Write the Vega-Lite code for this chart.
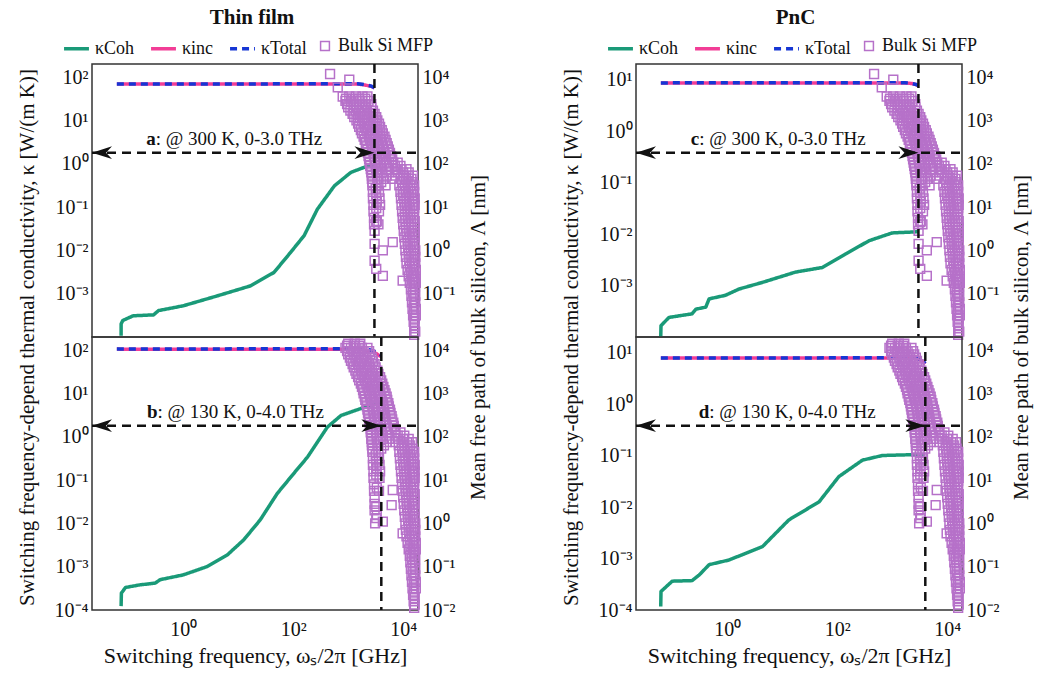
{
  "$schema": "https://vega.github.io/schema/vega-lite/v6.json",
  "background": "white",
  "padding": {"left": 15, "top": 7, "right": 2, "bottom": 2},
  "config": {
    "font": "Liberation Serif",
    "view": {"stroke": "#333", "strokeWidth": 1.5},
    "axis": {"labelFont": "Liberation Serif", "titleFont": "Liberation Serif", "labelFontSize": 20, "titleFontSize": 21, "titleFontWeight": "normal", "grid": false, "domain": false, "ticks": false, "labelColor": "#111", "titleColor": "#111", "labelPadding": 4, "titlePadding": 6},
    "legend": {"orient": "none", "legendX": -30, "legendY": -30, "direction": "horizontal", "labelFont": "Liberation Serif", "labelFontSize": 18, "labelColor": "#111", "columnPadding": 9, "labelOffset": 4, "padding": 0},
    "title": {"font": "Liberation Serif", "fontSize": 21, "fontWeight": "bold", "color": "#111", "anchor": "middle", "offset": 6}
  },
  "datasets": {
    "a_coh": [{"f":0.0741,"k":0.000107},{"f":0.0742,"k":0.0002},{"f":0.0794,"k":0.00024},{"f":0.123,"k":0.000309},{"f":0.288,"k":0.000324},{"f":0.355,"k":0.000407},{"f":1.0,"k":0.000525},{"f":4.17,"k":0.00089},{"f":16.6,"k":0.00151},{"f":44.7,"k":0.00309},{"f":89.1,"k":0.0089},{"f":158,"k":0.0219},{"f":275,"k":0.0891},{"f":562,"k":0.309},{"f":1122,"k":0.631},{"f":2291,"k":0.891},{"f":3000,"k":0.933}],
    "a_inc": [{"f":0.062,"k":69},{"f":1500,"k":69},{"f":1950,"k":66},{"f":2630,"k":61},{"f":3000,"k":56}],
    "a_tot": [{"f":0.062,"k":69.3},{"f":1500,"k":69.7},{"f":1950,"k":66.8},{"f":2630,"k":61.9},{"f":3000,"k":57}],
    "b_coh": [{"f":0.0741,"k":0.000123},{"f":0.075,"k":0.000245},{"f":0.0891,"k":0.000331},{"f":0.162,"k":0.00038},{"f":0.309,"k":0.000417},{"f":0.38,"k":0.000501},{"f":1.0,"k":0.000646},{"f":2.69,"k":0.001},{"f":6.31,"k":0.00186},{"f":12.6,"k":0.00417},{"f":25.1,"k":0.012},{"f":51.3,"k":0.049},{"f":102,"k":0.141},{"f":182,"k":0.339},{"f":417,"k":1.66},{"f":741,"k":3.09},{"f":1698,"k":4.47},{"f":3715,"k":6.03},{"f":3981,"k":6.17}],
    "b_inc": [{"f":0.062,"k":105},{"f":1400,"k":104.5},{"f":1950,"k":101},{"f":2630,"k":94},{"f":3236,"k":83},{"f":3700,"k":74},{"f":4000,"k":70}],
    "b_tot": [{"f":0.062,"k":105},{"f":1400,"k":108},{"f":1950,"k":105.5},{"f":2630,"k":99},{"f":3236,"k":88.5},{"f":3700,"k":80},{"f":4000,"k":76}],
    "c_coh": [{"f":0.0617,"k":0.0001},{"f":0.0624,"k":0.000166},{"f":0.0871,"k":0.00024},{"f":0.229,"k":0.000282},{"f":0.269,"k":0.000347},{"f":0.407,"k":0.00038},{"f":0.468,"k":0.00055},{"f":0.933,"k":0.000646},{"f":1.62,"k":0.000851},{"f":4.37,"k":0.00115},{"f":17.4,"k":0.00182},{"f":53.7,"k":0.00224},{"f":141,"k":0.00407},{"f":380,"k":0.00741},{"f":1000,"k":0.0105},{"f":2692,"k":0.011},{"f":3000,"k":0.011}],
    "c_inc": [{"f":0.062,"k":8.6},{"f":1700,"k":8.6},{"f":2200,"k":8.4},{"f":2700,"k":8.0},{"f":3000,"k":7.6}],
    "c_tot": [{"f":0.062,"k":8.6},{"f":1700,"k":8.61},{"f":2200,"k":8.41},{"f":2700,"k":8.01},{"f":3000,"k":7.61}],
    "d_coh": [{"f":0.0617,"k":0.000117},{"f":0.0624,"k":0.000229},{"f":0.1,"k":0.000363},{"f":0.229,"k":0.000372},{"f":0.309,"k":0.000479},{"f":0.468,"k":0.000759},{"f":1.07,"k":0.000933},{"f":4.37,"k":0.0017},{"f":13.2,"k":0.00562},{"f":46.8,"k":0.0126},{"f":107,"k":0.0389},{"f":288,"k":0.0813},{"f":661,"k":0.1},{"f":3548,"k":0.105},{"f":3981,"k":0.105}],
    "d_inc": [{"f":0.062,"k":7.8},{"f":2200,"k":7.8},{"f":2800,"k":7.6},{"f":3300,"k":7.1},{"f":3700,"k":6.5},{"f":4000,"k":6.0}],
    "d_tot": [{"f":0.062,"k":7.8},{"f":2200,"k":7.9},{"f":2800,"k":7.7},{"f":3300,"k":7.2},{"f":3700,"k":6.6},{"f":4000,"k":6.1}],
    "mfp300": [
      {"f":468,"m":11750},{"f":1047,"m":8700},{"f":646,"m":5750},{"f":3236,"m":4.47},{"f":6457,"m":1.55},{"f":4266,"m":1.0},{"f":3020,"m":0.575},{"f":4266,"m":0.257},{"f":9772,"m":0.2},{"f":3236,"m":0.372},
      {"f":794,"m":3548},{"f":1047,"m":3548},{"f":1380,"m":3548},{"f":1820,"m":3548},{"f":2239,"m":3548},
      {"f":912,"m":3162},{"f":1202,"m":3162},{"f":1585,"m":3162},{"f":2042,"m":3162},
      {"f":891,"m":2818},{"f":1122,"m":2818},{"f":1413,"m":2818},{"f":1778,"m":2818},{"f":2344,"m":2818},
      {"f":955,"m":2371},{"f":1259,"m":2371},{"f":1585,"m":2371},{"f":2089,"m":2371},{"f":2630,"m":2371},
      {"f":1000,"m":1995},{"f":1259,"m":1995},{"f":1585,"m":1995},{"f":1995,"m":1995},{"f":2630,"m":1995},
      {"f":1096,"m":1679},{"f":1380,"m":1679},{"f":1738,"m":1679},{"f":2188,"m":1679},{"f":2818,"m":1679},
      {"f":1202,"m":1413},{"f":1514,"m":1413},{"f":1905,"m":1413},{"f":2399,"m":1413},{"f":3020,"m":1413},
      {"f":1288,"m":1189},{"f":1622,"m":1189},{"f":2042,"m":1189},{"f":2630,"m":1189},{"f":3236,"m":1189},
      {"f":1413,"m":1000},{"f":1778,"m":1000},{"f":2239,"m":1000},{"f":2818,"m":1000},{"f":3388,"m":1000},
      {"f":1514,"m":841},{"f":1905,"m":841},{"f":2399,"m":841},{"f":3020,"m":841},{"f":3631,"m":841},
      {"f":1585,"m":708},{"f":1995,"m":708},{"f":2512,"m":708},{"f":3162,"m":708},{"f":3802,"m":708},
      {"f":1698,"m":596},{"f":2138,"m":596},{"f":2692,"m":596},{"f":3388,"m":596},{"f":4074,"m":596},
      {"f":1778,"m":501},{"f":2239,"m":501},{"f":2818,"m":501},{"f":3548,"m":501},{"f":4266,"m":501},
      {"f":1905,"m":422},{"f":2399,"m":422},{"f":3020,"m":422},{"f":3802,"m":422},{"f":4571,"m":422},
      {"f":1995,"m":355},{"f":2512,"m":355},{"f":3162,"m":355},{"f":3981,"m":355},{"f":4786,"m":355},
      {"f":2089,"m":299},{"f":2630,"m":299},{"f":3311,"m":299},{"f":4169,"m":299},{"f":5012,"m":299},
      {"f":2138,"m":251},{"f":2692,"m":251},{"f":3388,"m":251},{"f":4266,"m":251},{"f":5248,"m":251},
      {"f":2239,"m":211},{"f":2818,"m":211},{"f":3548,"m":211},{"f":4467,"m":211},{"f":5495,"m":211},
      {"f":2291,"m":178},{"f":2884,"m":178},{"f":3631,"m":178},{"f":4571,"m":178},{"f":5754,"m":178},
      {"f":2344,"m":150},{"f":2951,"m":150},{"f":3715,"m":150},{"f":4786,"m":150},{"f":6026,"m":150},
      {"f":2399,"m":126},{"f":3020,"m":126},{"f":3802,"m":126},{"f":4786,"m":126},{"f":6310,"m":126},
      {"f":2455,"m":106},{"f":3090,"m":106},{"f":3890,"m":106},{"f":5012,"m":106},{"f":6607,"m":106},{"f":7943,"m":106},
      {"f":2512,"m":89.1},{"f":3162,"m":89.1},{"f":3981,"m":89.1},{"f":5012,"m":89.1},{"f":7079,"m":89.1},{"f":8913,"m":89.1},
      {"f":2570,"m":75},{"f":3236,"m":75},{"f":4169,"m":75},{"f":5370,"m":75},{"f":7413,"m":75},{"f":9333,"m":75},{"f":11482,"m":75},
      {"f":2630,"m":63.1},{"f":3311,"m":63.1},{"f":4169,"m":63.1},{"f":5623,"m":63.1},{"f":7943,"m":63.1},{"f":10000,"m":63.1},{"f":12589,"m":63.1},
      {"f":2692,"m":53.1},{"f":3548,"m":53.1},{"f":5012,"m":53.1},{"f":7079,"m":53.1},{"f":10000,"m":53.1},{"f":12589,"m":53.1},{"f":15136,"m":53.1},
      {"f":2692,"m":44.7},{"f":3388,"m":44.7},{"f":4467,"m":44.7},{"f":6310,"m":44.7},{"f":8913,"m":44.7},{"f":11220,"m":44.7},{"f":14125,"m":44.7},
      {"f":2754,"m":37.6},{"f":3981,"m":37.6},{"f":9550,"m":37.6},{"f":12023,"m":37.6},{"f":14791,"m":37.6},
      {"f":2754,"m":31.6},{"f":3548,"m":31.6},{"f":4786,"m":31.6},{"f":8511,"m":31.6},{"f":10715,"m":31.6},{"f":13490,"m":31.6},{"f":15849,"m":31.6},
      {"f":3162,"m":26.6},{"f":9772,"m":26.6},{"f":12303,"m":26.6},{"f":15136,"m":26.6},
      {"f":2818,"m":22.4},{"f":3631,"m":22.4},{"f":8913,"m":22.4},{"f":11220,"m":22.4},{"f":14125,"m":22.4},{"f":15849,"m":22.4},
      {"f":3236,"m":18.8},{"f":10000,"m":18.8},{"f":12589,"m":18.8},{"f":15488,"m":18.8},
      {"f":2818,"m":15.8},{"f":3715,"m":15.8},{"f":9120,"m":15.8},{"f":11482,"m":15.8},{"f":14454,"m":15.8},{"f":16218,"m":15.8},
      {"f":3311,"m":13.3},{"f":10471,"m":13.3},{"f":12882,"m":13.3},{"f":15488,"m":13.3},
      {"f":2884,"m":11.2},{"f":3802,"m":11.2},{"f":9333,"m":11.2},{"f":11749,"m":11.2},{"f":14791,"m":11.2},{"f":16218,"m":11.2},
      {"f":3236,"m":9.44},{"f":10715,"m":9.44},{"f":13183,"m":9.44},{"f":15849,"m":9.44},
      {"f":2884,"m":7.94},{"f":3631,"m":7.94},{"f":9550,"m":7.94},{"f":12023,"m":7.94},{"f":15136,"m":7.94},
      {"f":10715,"m":6.68},{"f":13490,"m":6.68},{"f":15849,"m":6.68},
      {"f":2951,"m":5.62},{"f":9772,"m":5.62},{"f":12303,"m":5.62},{"f":15488,"m":5.62},
      {"f":3311,"m":4.73},{"f":10965,"m":4.73},{"f":13804,"m":4.73},{"f":16218,"m":4.73},
      {"f":2951,"m":3.98},{"f":3548,"m":3.98},{"f":10000,"m":3.98},{"f":12589,"m":3.98},{"f":15849,"m":3.98},
      {"f":11220,"m":3.35},{"f":14125,"m":3.35},{"f":16218,"m":3.35},
      {"f":3020,"m":2.82},{"f":10233,"m":2.82},{"f":12882,"m":2.82},{"f":15849,"m":2.82},
      {"f":11482,"m":2.37},{"f":14454,"m":2.37},{"f":16218,"m":2.37},
      {"f":10471,"m":2.0},{"f":13183,"m":2.0},{"f":16218,"m":2.0},
      {"f":12023,"m":1.68},{"f":14791,"m":1.68},
      {"f":3020,"m":1.41},{"f":10715,"m":1.41},{"f":13490,"m":1.41},{"f":16218,"m":1.41},
      {"f":12303,"m":1.19},{"f":15136,"m":1.19},
      {"f":10965,"m":1.0},{"f":13804,"m":1.0},{"f":16596,"m":1.0},
      {"f":12589,"m":0.841},{"f":15488,"m":0.841},
      {"f":11220,"m":0.708},{"f":14125,"m":0.708},{"f":16596,"m":0.708},
      {"f":12882,"m":0.596},{"f":15488,"m":0.596},
      {"f":11482,"m":0.501},{"f":14454,"m":0.501},{"f":16596,"m":0.501},
      {"f":13183,"m":0.422},{"f":15849,"m":0.422},
      {"f":12023,"m":0.355},{"f":14791,"m":0.355},{"f":16982,"m":0.355},
      {"f":13804,"m":0.299},{"f":15849,"m":0.299},
      {"f":12589,"m":0.251},{"f":15136,"m":0.251},{"f":16982,"m":0.251},
      {"f":14454,"m":0.211},{"f":16218,"m":0.211},
      {"f":13183,"m":0.178},{"f":15849,"m":0.178},{"f":16982,"m":0.178},
      {"f":14791,"m":0.15},{"f":16596,"m":0.15},
      {"f":13804,"m":0.126},{"f":16218,"m":0.126},
      {"f":15136,"m":0.106},
      {"f":14125,"m":0.0891},{"f":16596,"m":0.0891},
      {"f":15488,"m":0.075},
      {"f":14454,"m":0.0631},{"f":16596,"m":0.0631},
      {"f":15849,"m":0.053},
      {"f":14791,"m":0.0447},{"f":16982,"m":0.0447},
      {"f":15849,"m":0.0376},
      {"f":15136,"m":0.0316},{"f":16982,"m":0.0316},
      {"f":16218,"m":0.0266},
      {"f":15488,"m":0.0224},{"f":16218,"m":0.0188},{"f":15849,"m":0.0158},{"f":16596,"m":0.0133},{"f":15849,"m":0.0112}
    ],
    "mfp130": [
      {"f":3236,"m":18.6},{"f":6457,"m":5.89},{"f":3236,"m":2.4},{"f":6166,"m":2.63},{"f":3311,"m":1.55},{"f":4266,"m":1.1},{"f":9772,"m":0.589},{"f":3236,"m":1.32},
      {"f":1000,"m":14125},{"f":1318,"m":14125},{"f":1660,"m":14125},
      {"f":955,"m":12589},{"f":1259,"m":12589},{"f":1585,"m":12589},
      {"f":891,"m":11220},{"f":1122,"m":11220},{"f":1413,"m":11220},{"f":1778,"m":11220},{"f":2239,"m":11220},
      {"f":955,"m":9441},{"f":1202,"m":9441},{"f":1514,"m":9441},{"f":1905,"m":9441},{"f":2399,"m":9441},
      {"f":1000,"m":7943},{"f":1259,"m":7943},{"f":1585,"m":7943},{"f":1995,"m":7943},{"f":2512,"m":7943},
      {"f":1072,"m":6683},{"f":1349,"m":6683},{"f":1698,"m":6683},{"f":2138,"m":6683},{"f":2692,"m":6683},
      {"f":1122,"m":5623},{"f":1413,"m":5623},{"f":1778,"m":5623},{"f":2239,"m":5623},{"f":2818,"m":5623},
      {"f":1202,"m":4732},{"f":1514,"m":4732},{"f":1905,"m":4732},{"f":2399,"m":4732},{"f":3020,"m":4732},
      {"f":1259,"m":3981},{"f":1585,"m":3981},{"f":1995,"m":3981},{"f":2512,"m":3981},{"f":3162,"m":3981},
      {"f":1349,"m":3350},{"f":1698,"m":3350},{"f":2138,"m":3350},{"f":2692,"m":3350},{"f":3388,"m":3350},
      {"f":1413,"m":2818},{"f":1778,"m":2818},{"f":2239,"m":2818},{"f":2818,"m":2818},{"f":3548,"m":2818},
      {"f":1514,"m":2371},{"f":1905,"m":2371},{"f":2399,"m":2371},{"f":3020,"m":2371},{"f":3802,"m":2371},
      {"f":1585,"m":1995},{"f":1995,"m":1995},{"f":2512,"m":1995},{"f":3162,"m":1995},{"f":3981,"m":1995},
      {"f":1698,"m":1679},{"f":2138,"m":1679},{"f":2692,"m":1679},{"f":3388,"m":1679},{"f":4169,"m":1679},
      {"f":1778,"m":1413},{"f":2239,"m":1413},{"f":2818,"m":1413},{"f":3548,"m":1413},{"f":4365,"m":1413},
      {"f":1862,"m":1189},{"f":2344,"m":1189},{"f":2951,"m":1189},{"f":3715,"m":1189},{"f":4571,"m":1189},
      {"f":1905,"m":1000},{"f":2399,"m":1000},{"f":3020,"m":1000},{"f":3802,"m":1000},{"f":4786,"m":1000},
      {"f":1995,"m":841},{"f":2512,"m":841},{"f":3162,"m":841},{"f":3981,"m":841},{"f":5012,"m":841},
      {"f":2042,"m":708},{"f":2570,"m":708},{"f":3236,"m":708},{"f":4074,"m":708},{"f":5129,"m":708},
      {"f":2138,"m":596},{"f":2692,"m":596},{"f":3388,"m":596},{"f":4266,"m":596},{"f":5370,"m":596},
      {"f":2188,"m":501},{"f":2754,"m":501},{"f":3467,"m":501},{"f":4365,"m":501},{"f":5495,"m":501},
      {"f":2239,"m":422},{"f":2818,"m":422},{"f":3548,"m":422},{"f":4467,"m":422},{"f":5754,"m":422},
      {"f":2291,"m":355},{"f":2884,"m":355},{"f":3631,"m":355},{"f":4571,"m":355},{"f":5888,"m":355},
      {"f":2344,"m":299},{"f":2951,"m":299},{"f":3715,"m":299},{"f":4677,"m":299},{"f":6166,"m":299},
      {"f":2399,"m":251},{"f":3020,"m":251},{"f":3802,"m":251},{"f":4786,"m":251},{"f":6310,"m":251},
      {"f":2455,"m":211},{"f":3090,"m":211},{"f":3890,"m":211},{"f":4898,"m":211},{"f":6607,"m":211},
      {"f":2512,"m":178},{"f":3162,"m":178},{"f":3981,"m":178},{"f":5012,"m":178},{"f":6761,"m":178},
      {"f":2570,"m":150},{"f":3236,"m":150},{"f":4074,"m":150},{"f":5129,"m":150},{"f":7079,"m":150},
      {"f":2570,"m":126},{"f":3236,"m":126},{"f":4074,"m":126},{"f":5248,"m":126},{"f":7244,"m":126},{"f":8913,"m":126},
      {"f":2630,"m":106},{"f":3311,"m":106},{"f":4266,"m":106},{"f":5623,"m":106},{"f":7943,"m":106},{"f":10471,"m":106},
      {"f":2630,"m":89.1},{"f":3311,"m":89.1},{"f":4266,"m":89.1},{"f":5623,"m":89.1},{"f":7943,"m":89.1},{"f":10000,"m":89.1},{"f":12589,"m":89.1},
      {"f":2692,"m":75},{"f":3548,"m":75},{"f":5012,"m":75},{"f":7244,"m":75},{"f":9333,"m":75},{"f":11749,"m":75},{"f":14454,"m":75},
      {"f":2692,"m":63.1},{"f":3388,"m":63.1},{"f":4467,"m":63.1},{"f":8318,"m":63.1},{"f":10471,"m":63.1},{"f":13183,"m":63.1},
      {"f":2754,"m":53.1},{"f":3981,"m":53.1},{"f":9550,"m":53.1},{"f":12023,"m":53.1},{"f":14791,"m":53.1},
      {"f":2754,"m":44.7},{"f":3548,"m":44.7},{"f":8511,"m":44.7},{"f":10715,"m":44.7},{"f":13490,"m":44.7},{"f":15849,"m":44.7},
      {"f":3162,"m":37.6},{"f":9772,"m":37.6},{"f":12303,"m":37.6},{"f":15136,"m":37.6},
      {"f":2818,"m":31.6},{"f":3631,"m":31.6},{"f":8710,"m":31.6},{"f":10965,"m":31.6},{"f":13804,"m":31.6},{"f":15849,"m":31.6},
      {"f":3236,"m":26.6},{"f":10000,"m":26.6},{"f":12589,"m":26.6},{"f":15136,"m":26.6},
      {"f":2818,"m":22.4},{"f":3715,"m":22.4},{"f":8913,"m":22.4},{"f":11220,"m":22.4},{"f":14125,"m":22.4},{"f":16218,"m":22.4},
      {"f":3311,"m":18.8},{"f":10233,"m":18.8},{"f":12882,"m":18.8},{"f":15488,"m":18.8},
      {"f":2884,"m":15.8},{"f":3802,"m":15.8},{"f":9120,"m":15.8},{"f":11482,"m":15.8},{"f":14454,"m":15.8},{"f":16218,"m":15.8},
      {"f":3236,"m":13.3},{"f":10471,"m":13.3},{"f":13183,"m":13.3},{"f":15488,"m":13.3},
      {"f":2884,"m":11.2},{"f":3715,"m":11.2},{"f":9333,"m":11.2},{"f":11749,"m":11.2},{"f":14791,"m":11.2},{"f":16218,"m":11.2},
      {"f":10715,"m":9.44},{"f":13490,"m":9.44},{"f":15849,"m":9.44},
      {"f":2951,"m":7.94},{"f":9550,"m":7.94},{"f":12023,"m":7.94},{"f":15136,"m":7.94},
      {"f":3311,"m":6.68},{"f":10965,"m":6.68},{"f":13804,"m":6.68},{"f":15849,"m":6.68},
      {"f":2951,"m":5.62},{"f":3631,"m":5.62},{"f":9772,"m":5.62},{"f":12303,"m":5.62},{"f":15488,"m":5.62},
      {"f":11220,"m":4.73},{"f":14125,"m":4.73},{"f":16218,"m":4.73},
      {"f":3020,"m":3.98},{"f":10000,"m":3.98},{"f":12589,"m":3.98},{"f":15849,"m":3.98},
      {"f":11482,"m":3.35},{"f":14454,"m":3.35},{"f":16218,"m":3.35},
      {"f":3020,"m":2.82},{"f":10233,"m":2.82},{"f":12882,"m":2.82},{"f":15849,"m":2.82},
      {"f":11749,"m":2.37},{"f":14791,"m":2.37},
      {"f":3020,"m":2.0},{"f":10471,"m":2.0},{"f":13183,"m":2.0},{"f":16218,"m":2.0},
      {"f":12023,"m":1.68},{"f":14791,"m":1.68},
      {"f":10715,"m":1.41},{"f":13490,"m":1.41},{"f":16218,"m":1.41},
      {"f":12303,"m":1.19},{"f":15136,"m":1.19},
      {"f":3090,"m":1.0},{"f":10965,"m":1.0},{"f":13804,"m":1.0},{"f":16596,"m":1.0},
      {"f":12589,"m":0.841},{"f":15488,"m":0.841},
      {"f":11220,"m":0.708},{"f":14125,"m":0.708},{"f":16596,"m":0.708},
      {"f":12882,"m":0.596},{"f":15488,"m":0.596},
      {"f":11482,"m":0.501},{"f":14454,"m":0.501},{"f":16596,"m":0.501},
      {"f":13183,"m":0.422},{"f":15849,"m":0.422},
      {"f":12023,"m":0.355},{"f":14791,"m":0.355},{"f":16982,"m":0.355},
      {"f":13490,"m":0.299},{"f":15849,"m":0.299},
      {"f":12589,"m":0.251},{"f":15136,"m":0.251},{"f":16982,"m":0.251},
      {"f":14125,"m":0.211},{"f":16218,"m":0.211},
      {"f":13183,"m":0.178},{"f":15849,"m":0.178},
      {"f":14454,"m":0.15},{"f":16596,"m":0.15},
      {"f":13490,"m":0.126},{"f":16218,"m":0.126},
      {"f":14791,"m":0.106},
      {"f":13804,"m":0.0891},{"f":16596,"m":0.0891},
      {"f":15136,"m":0.075},
      {"f":14125,"m":0.0631},{"f":16596,"m":0.0631},
      {"f":15488,"m":0.053},
      {"f":14454,"m":0.0447},{"f":16982,"m":0.0447},
      {"f":15849,"m":0.0376},
      {"f":14791,"m":0.0316},{"f":16982,"m":0.0316},
      {"f":15849,"m":0.0266},
      {"f":15136,"m":0.0224},{"f":16218,"m":0.0188},{"f":15488,"m":0.0158},{"f":16218,"m":0.0133},{"f":15849,"m":0.0112}
    ]
  },
  "hconcat": [
    {
      "title": {"text": "Thin film"},
      "spacing": 0,
      "bounds": "flush",
      "vconcat": [
        {
          "width": 326, "height": 273,
          "encoding": {"x": {"field": "f", "type": "quantitative", "scale": {"type": "log", "domain": [0.0219, 18600], "nice": false}, "axis": {"values": [1, 100, 10000], "labels": false, "title": null}}},
          "layer": [
            {"data": {"name": "a_coh"}, "mark": {"type": "line", "strokeJoin": "round"}, "encoding": {
              "y": {"field": "k", "type": "quantitative", "scale": {"type": "log", "domain": [0.0001, 200], "nice": false}, "axis": {"orient": "left", "values": [0.001, 0.01, 0.1, 1, 10, 100], "labelExpr": "'10' + replace(replace(replace(replace(replace(replace(replace('' + round(log(datum.value) / LN10), '-', '⁻'), '0', '⁰'), '1', '¹'), '2', '²'), '3', '³'), '4', '⁴'), '5', '⁵')", "title": "Switching frequency-depend thermal conductivity, κ [W/(m K)]", "titleY": 273, "titleX": -65, "titleAngle": 270, "titleAlign": "center", "titleBaseline": "middle"}},
              "color": {"datum": "κCoh", "type": "nominal", "scale": {"domain": ["κCoh","κinc","κTotal","Bulk Si MFP"], "range": ["#1a9a78","#f23d96","#1636d4","#b671c9"]}, "legend": {"title": null}},
              "strokeDash": {"datum": "κCoh", "type": "nominal", "scale": {"domain": ["κCoh","κinc","κTotal","Bulk Si MFP"], "range": [[1,0],[1,0],[7,5],[1,0]]}, "legend": {"title": null}},
              "strokeWidth": {"datum": "κCoh", "type": "ordinal", "scale": {"type": "ordinal", "domain": ["κCoh","κinc","κTotal","Bulk Si MFP"], "range": [3.5,3.5,3.5,1.5]}, "legend": {"title": null}}
            }},
            {"data": {"name": "a_inc"}, "mark": {"type": "line", "strokeCap": "butt"}, "encoding": {
              "y": {"field": "k", "type": "quantitative", "scale": {"type": "log", "domain": [0.0001, 200], "nice": false}, "axis": null},
              "color": {"datum": "κinc", "type": "nominal", "scale": {"domain": ["κCoh","κinc","κTotal","Bulk Si MFP"], "range": ["#1a9a78","#f23d96","#1636d4","#b671c9"]}, "legend": {"title": null}},
              "strokeDash": {"datum": "κinc", "type": "nominal", "scale": {"domain": ["κCoh","κinc","κTotal","Bulk Si MFP"], "range": [[1,0],[1,0],[7,5],[1,0]]}, "legend": {"title": null}},
              "strokeWidth": {"datum": "κinc", "type": "ordinal", "scale": {"type": "ordinal", "domain": ["κCoh","κinc","κTotal","Bulk Si MFP"], "range": [3.5,3.5,3.5,1.5]}, "legend": {"title": null}}
            }},
            {"data": {"name": "a_tot"}, "mark": {"type": "line", "strokeCap": "butt"}, "encoding": {
              "y": {"field": "k", "type": "quantitative", "scale": {"type": "log", "domain": [0.0001, 200], "nice": false}, "axis": null},
              "color": {"datum": "κTotal", "type": "nominal", "scale": {"domain": ["κCoh","κinc","κTotal","Bulk Si MFP"], "range": ["#1a9a78","#f23d96","#1636d4","#b671c9"]}, "legend": {"title": null}},
              "strokeDash": {"datum": "κTotal", "type": "nominal", "scale": {"domain": ["κCoh","κinc","κTotal","Bulk Si MFP"], "range": [[1,0],[1,0],[7,5],[1,0]]}, "legend": {"title": null}},
              "strokeWidth": {"datum": "κTotal", "type": "ordinal", "scale": {"type": "ordinal", "domain": ["κCoh","κinc","κTotal","Bulk Si MFP"], "range": [3.5,3.5,3.5,1.5]}, "legend": {"title": null}}
            }},
            {"data": {"name": "mfp300"}, "mark": {"type": "point", "filled": false, "opacity": 1}, "encoding": {
              "y": {"field": "m", "type": "quantitative", "scale": {"type": "log", "domain": [0.01, 20000], "nice": false}, "axis": {"orient": "right", "values": [0.1, 1, 10, 100, 1000, 10000], "labelExpr": "'10' + replace(replace(replace(replace(replace(replace(replace('' + round(log(datum.value) / LN10), '-', '⁻'), '0', '⁰'), '1', '¹'), '2', '²'), '3', '³'), '4', '⁴'), '5', '⁵')", "title": "Mean free path of bulk silicon, Λ [nm]", "titleY": 273, "titleX": 60, "titleAngle": 270, "titleAlign": "center", "titleBaseline": "middle"}},
              "color": {"datum": "Bulk Si MFP", "type": "nominal", "scale": {"domain": ["κCoh","κinc","κTotal","Bulk Si MFP"], "range": ["#1a9a78","#f23d96","#1636d4","#b671c9"]}, "legend": {"title": null}},
              "shape": {"datum": "Bulk Si MFP", "type": "nominal", "scale": {"domain": ["κCoh","κinc","κTotal","Bulk Si MFP"], "range": ["stroke","stroke","stroke","square"]}, "legend": {"title": null}},
              "size": {"datum": "Bulk Si MFP", "type": "ordinal", "scale": {"type": "ordinal", "domain": ["κCoh","κinc","κTotal","Bulk Si MFP"], "range": [620,620,620,78]}, "legend": {"title": null}},
              "strokeWidth": {"datum": "Bulk Si MFP", "type": "ordinal", "scale": {"type": "ordinal", "domain": ["κCoh","κinc","κTotal","Bulk Si MFP"], "range": [3.5,3.5,3.5,1.5]}, "legend": {"title": null}}
            }},
            {"data": {"values": [{"f": 0.0219, "f2": 18600, "m": 180}]}, "mark": {"type": "rule", "color": "#111", "strokeWidth": 2.5, "strokeDash": [9, 6]}, "encoding": {"x2": {"field": "f2"}, "y": {"field": "m", "type": "quantitative", "scale": {"type": "log", "domain": [0.01, 20000], "nice": false}, "axis": null}}},
            {"data": {"values": [{"f": 0.0219, "m": 180}]}, "mark": {"type": "point", "shape": "M0,0L1,-0.32L0.7,0L1,0.32Z", "size": 1600, "filled": true, "color": "#111", "opacity": 1}, "encoding": {"y": {"field": "m", "type": "quantitative", "scale": {"type": "log", "domain": [0.01, 20000], "nice": false}, "axis": null}}},
            {"data": {"values": [{"f": 3000, "m": 180}]}, "mark": {"type": "point", "shape": "M0,0L-1,-0.32L-0.7,0L-1,0.32Z", "size": 1600, "filled": true, "color": "#111", "opacity": 1}, "encoding": {"y": {"field": "m", "type": "quantitative", "scale": {"type": "log", "domain": [0.01, 20000], "nice": false}, "axis": null}}},
            {"data": {"values": [{"f": 0.315, "m": 180}]}, "mark": {"type": "text", "text": "a", "align": "right", "baseline": "alphabetic", "dy": -8, "fontSize": 19, "fontWeight": "bold", "color": "#111"}, "encoding": {"y": {"field": "m", "type": "quantitative", "scale": {"type": "log", "domain": [0.01, 20000], "nice": false}, "axis": null}}},
            {"data": {"values": [{"f": 0.315, "m": 180}]}, "mark": {"type": "text", "text": ": @ 300 K, 0-3.0 THz", "align": "left", "baseline": "alphabetic", "dy": -8, "fontSize": 19, "color": "#111"}, "encoding": {"y": {"field": "m", "type": "quantitative", "scale": {"type": "log", "domain": [0.01, 20000], "nice": false}, "axis": null}}},
            {"data": {"values": [{"f": 3000}]}, "mark": {"type": "rule", "color": "#111", "strokeWidth": 2.5, "strokeDash": [9, 6]}, "encoding": {}}
          ],
          "resolve": {"scale": {"y": "independent"}}
        },
        {
          "width": 326, "height": 273,
          "encoding": {"x": {"field": "f", "type": "quantitative", "scale": {"type": "log", "domain": [0.0219, 18600], "nice": false}, "axis": {"values": [1, 100, 10000], "labelExpr": "'10' + replace(replace(replace(replace(replace(replace(replace('' + round(log(datum.value) / LN10), '-', '⁻'), '0', '⁰'), '1', '¹'), '2', '²'), '3', '³'), '4', '⁴'), '5', '⁵')", "title": "Switching frequency, ωₛ/2π [GHz]", "titleFontSize": 22, "labelPadding": 9, "titlePadding": 6}}},
          "layer": [
            {"data": {"name": "b_coh"}, "mark": {"type": "line", "strokeJoin": "round"}, "encoding": {
              "y": {"field": "k", "type": "quantitative", "scale": {"type": "log", "domain": [0.0001, 200], "nice": false}, "axis": {"orient": "left", "values": [0.0001, 0.001, 0.01, 0.1, 1, 10, 100], "labelExpr": "'10' + replace(replace(replace(replace(replace(replace(replace('' + round(log(datum.value) / LN10), '-', '⁻'), '0', '⁰'), '1', '¹'), '2', '²'), '3', '³'), '4', '⁴'), '5', '⁵')", "title": null}},
              "color": {"datum": "κCoh", "type": "nominal", "scale": {"domain": ["κCoh","κinc","κTotal","Bulk Si MFP"], "range": ["#1a9a78","#f23d96","#1636d4","#b671c9"]}, "legend": {"title": null}},
              "strokeDash": {"datum": "κCoh", "type": "nominal", "scale": {"domain": ["κCoh","κinc","κTotal","Bulk Si MFP"], "range": [[1,0],[1,0],[7,5],[1,0]]}, "legend": {"title": null}},
              "strokeWidth": {"datum": "κCoh", "type": "ordinal", "scale": {"type": "ordinal", "domain": ["κCoh","κinc","κTotal","Bulk Si MFP"], "range": [3.5,3.5,3.5,1.5]}, "legend": {"title": null}}
            }},
            {"data": {"name": "b_inc"}, "mark": {"type": "line", "strokeCap": "butt"}, "encoding": {
              "y": {"field": "k", "type": "quantitative", "scale": {"type": "log", "domain": [0.0001, 200], "nice": false}, "axis": null},
              "color": {"datum": "κinc", "type": "nominal", "scale": {"domain": ["κCoh","κinc","κTotal","Bulk Si MFP"], "range": ["#1a9a78","#f23d96","#1636d4","#b671c9"]}, "legend": {"title": null}},
              "strokeDash": {"datum": "κinc", "type": "nominal", "scale": {"domain": ["κCoh","κinc","κTotal","Bulk Si MFP"], "range": [[1,0],[1,0],[7,5],[1,0]]}, "legend": {"title": null}},
              "strokeWidth": {"datum": "κinc", "type": "ordinal", "scale": {"type": "ordinal", "domain": ["κCoh","κinc","κTotal","Bulk Si MFP"], "range": [3.5,3.5,3.5,1.5]}, "legend": {"title": null}}
            }},
            {"data": {"name": "b_tot"}, "mark": {"type": "line", "strokeCap": "butt"}, "encoding": {
              "y": {"field": "k", "type": "quantitative", "scale": {"type": "log", "domain": [0.0001, 200], "nice": false}, "axis": null},
              "color": {"datum": "κTotal", "type": "nominal", "scale": {"domain": ["κCoh","κinc","κTotal","Bulk Si MFP"], "range": ["#1a9a78","#f23d96","#1636d4","#b671c9"]}, "legend": {"title": null}},
              "strokeDash": {"datum": "κTotal", "type": "nominal", "scale": {"domain": ["κCoh","κinc","κTotal","Bulk Si MFP"], "range": [[1,0],[1,0],[7,5],[1,0]]}, "legend": {"title": null}},
              "strokeWidth": {"datum": "κTotal", "type": "ordinal", "scale": {"type": "ordinal", "domain": ["κCoh","κinc","κTotal","Bulk Si MFP"], "range": [3.5,3.5,3.5,1.5]}, "legend": {"title": null}}
            }},
            {"data": {"name": "mfp130"}, "mark": {"type": "point", "filled": false, "opacity": 1}, "encoding": {
              "y": {"field": "m", "type": "quantitative", "scale": {"type": "log", "domain": [0.01, 20000], "nice": false}, "axis": {"orient": "right", "values": [0.01, 0.1, 1, 10, 100, 1000, 10000], "labelExpr": "'10' + replace(replace(replace(replace(replace(replace(replace('' + round(log(datum.value) / LN10), '-', '⁻'), '0', '⁰'), '1', '¹'), '2', '²'), '3', '³'), '4', '⁴'), '5', '⁵')", "title": null}},
              "color": {"datum": "Bulk Si MFP", "type": "nominal", "scale": {"domain": ["κCoh","κinc","κTotal","Bulk Si MFP"], "range": ["#1a9a78","#f23d96","#1636d4","#b671c9"]}, "legend": {"title": null}},
              "shape": {"datum": "Bulk Si MFP", "type": "nominal", "scale": {"domain": ["κCoh","κinc","κTotal","Bulk Si MFP"], "range": ["stroke","stroke","stroke","square"]}, "legend": {"title": null}},
              "size": {"datum": "Bulk Si MFP", "type": "ordinal", "scale": {"type": "ordinal", "domain": ["κCoh","κinc","κTotal","Bulk Si MFP"], "range": [620,620,620,78]}, "legend": {"title": null}},
              "strokeWidth": {"datum": "Bulk Si MFP", "type": "ordinal", "scale": {"type": "ordinal", "domain": ["κCoh","κinc","κTotal","Bulk Si MFP"], "range": [3.5,3.5,3.5,1.5]}, "legend": {"title": null}}
            }},
            {"data": {"values": [{"f": 0.0219, "f2": 18600, "m": 180}]}, "mark": {"type": "rule", "color": "#111", "strokeWidth": 2.5, "strokeDash": [9, 6]}, "encoding": {"x2": {"field": "f2"}, "y": {"field": "m", "type": "quantitative", "scale": {"type": "log", "domain": [0.01, 20000], "nice": false}, "axis": null}}},
            {"data": {"values": [{"f": 0.0219, "m": 180}]}, "mark": {"type": "point", "shape": "M0,0L1,-0.32L0.7,0L1,0.32Z", "size": 1600, "filled": true, "color": "#111", "opacity": 1}, "encoding": {"y": {"field": "m", "type": "quantitative", "scale": {"type": "log", "domain": [0.01, 20000], "nice": false}, "axis": null}}},
            {"data": {"values": [{"f": 4000, "m": 180}]}, "mark": {"type": "point", "shape": "M0,0L-1,-0.32L-0.7,0L-1,0.32Z", "size": 1600, "filled": true, "color": "#111", "opacity": 1}, "encoding": {"y": {"field": "m", "type": "quantitative", "scale": {"type": "log", "domain": [0.01, 20000], "nice": false}, "axis": null}}},
            {"data": {"values": [{"f": 0.34, "m": 180}]}, "mark": {"type": "text", "text": "b", "align": "right", "baseline": "alphabetic", "dy": -8, "fontSize": 19, "fontWeight": "bold", "color": "#111"}, "encoding": {"y": {"field": "m", "type": "quantitative", "scale": {"type": "log", "domain": [0.01, 20000], "nice": false}, "axis": null}}},
            {"data": {"values": [{"f": 0.34, "m": 180}]}, "mark": {"type": "text", "text": ": @ 130 K, 0-4.0 THz", "align": "left", "baseline": "alphabetic", "dy": -8, "fontSize": 19, "color": "#111"}, "encoding": {"y": {"field": "m", "type": "quantitative", "scale": {"type": "log", "domain": [0.01, 20000], "nice": false}, "axis": null}}},
            {"data": {"values": [{"f": 4000}]}, "mark": {"type": "rule", "color": "#111", "strokeWidth": 2.5, "strokeDash": [9, 6]}, "encoding": {}}
          ],
          "resolve": {"scale": {"y": "independent"}}
        }
      ]
    },
    {
      "title": {"text": "PnC"},
      "spacing": 0,
      "bounds": "flush",
      "vconcat": [
        {
          "width": 326, "height": 273,
          "encoding": {"x": {"field": "f", "type": "quantitative", "scale": {"type": "log", "domain": [0.0219, 18600], "nice": false}, "axis": {"values": [1, 100, 10000], "labels": false, "title": null}}},
          "layer": [
            {"data": {"name": "c_coh"}, "mark": {"type": "line", "strokeJoin": "round"}, "encoding": {
              "y": {"field": "k", "type": "quantitative", "scale": {"type": "log", "domain": [0.0001, 20], "nice": false}, "axis": {"orient": "left", "values": [0.001, 0.01, 0.1, 1, 10], "labelExpr": "'10' + replace(replace(replace(replace(replace(replace(replace('' + round(log(datum.value) / LN10), '-', '⁻'), '0', '⁰'), '1', '¹'), '2', '²'), '3', '³'), '4', '⁴'), '5', '⁵')", "title": "Switching frequency-depend thermal conductivity, κ [W/(m K)]", "titleY": 273, "titleX": -65, "titleAngle": 270, "titleAlign": "center", "titleBaseline": "middle"}},
              "color": {"datum": "κCoh", "type": "nominal", "scale": {"domain": ["κCoh","κinc","κTotal","Bulk Si MFP"], "range": ["#1a9a78","#f23d96","#1636d4","#b671c9"]}, "legend": {"title": null}},
              "strokeDash": {"datum": "κCoh", "type": "nominal", "scale": {"domain": ["κCoh","κinc","κTotal","Bulk Si MFP"], "range": [[1,0],[1,0],[7,5],[1,0]]}, "legend": {"title": null}},
              "strokeWidth": {"datum": "κCoh", "type": "ordinal", "scale": {"type": "ordinal", "domain": ["κCoh","κinc","κTotal","Bulk Si MFP"], "range": [3.5,3.5,3.5,1.5]}, "legend": {"title": null}}
            }},
            {"data": {"name": "c_inc"}, "mark": {"type": "line", "strokeCap": "butt"}, "encoding": {
              "y": {"field": "k", "type": "quantitative", "scale": {"type": "log", "domain": [0.0001, 20], "nice": false}, "axis": null},
              "color": {"datum": "κinc", "type": "nominal", "scale": {"domain": ["κCoh","κinc","κTotal","Bulk Si MFP"], "range": ["#1a9a78","#f23d96","#1636d4","#b671c9"]}, "legend": {"title": null}},
              "strokeDash": {"datum": "κinc", "type": "nominal", "scale": {"domain": ["κCoh","κinc","κTotal","Bulk Si MFP"], "range": [[1,0],[1,0],[7,5],[1,0]]}, "legend": {"title": null}},
              "strokeWidth": {"datum": "κinc", "type": "ordinal", "scale": {"type": "ordinal", "domain": ["κCoh","κinc","κTotal","Bulk Si MFP"], "range": [3.5,3.5,3.5,1.5]}, "legend": {"title": null}}
            }},
            {"data": {"name": "c_tot"}, "mark": {"type": "line", "strokeCap": "butt"}, "encoding": {
              "y": {"field": "k", "type": "quantitative", "scale": {"type": "log", "domain": [0.0001, 20], "nice": false}, "axis": null},
              "color": {"datum": "κTotal", "type": "nominal", "scale": {"domain": ["κCoh","κinc","κTotal","Bulk Si MFP"], "range": ["#1a9a78","#f23d96","#1636d4","#b671c9"]}, "legend": {"title": null}},
              "strokeDash": {"datum": "κTotal", "type": "nominal", "scale": {"domain": ["κCoh","κinc","κTotal","Bulk Si MFP"], "range": [[1,0],[1,0],[7,5],[1,0]]}, "legend": {"title": null}},
              "strokeWidth": {"datum": "κTotal", "type": "ordinal", "scale": {"type": "ordinal", "domain": ["κCoh","κinc","κTotal","Bulk Si MFP"], "range": [3.5,3.5,3.5,1.5]}, "legend": {"title": null}}
            }},
            {"data": {"name": "mfp300"}, "mark": {"type": "point", "filled": false, "opacity": 1}, "encoding": {
              "y": {"field": "m", "type": "quantitative", "scale": {"type": "log", "domain": [0.01, 20000], "nice": false}, "axis": {"orient": "right", "values": [0.1, 1, 10, 100, 1000, 10000], "labelExpr": "'10' + replace(replace(replace(replace(replace(replace(replace('' + round(log(datum.value) / LN10), '-', '⁻'), '0', '⁰'), '1', '¹'), '2', '²'), '3', '³'), '4', '⁴'), '5', '⁵')", "title": "Mean free path of bulk silicon, Λ [nm]", "titleY": 273, "titleX": 59, "titleAngle": 270, "titleAlign": "center", "titleBaseline": "middle"}},
              "color": {"datum": "Bulk Si MFP", "type": "nominal", "scale": {"domain": ["κCoh","κinc","κTotal","Bulk Si MFP"], "range": ["#1a9a78","#f23d96","#1636d4","#b671c9"]}, "legend": {"title": null}},
              "shape": {"datum": "Bulk Si MFP", "type": "nominal", "scale": {"domain": ["κCoh","κinc","κTotal","Bulk Si MFP"], "range": ["stroke","stroke","stroke","square"]}, "legend": {"title": null}},
              "size": {"datum": "Bulk Si MFP", "type": "ordinal", "scale": {"type": "ordinal", "domain": ["κCoh","κinc","κTotal","Bulk Si MFP"], "range": [620,620,620,78]}, "legend": {"title": null}},
              "strokeWidth": {"datum": "Bulk Si MFP", "type": "ordinal", "scale": {"type": "ordinal", "domain": ["κCoh","κinc","κTotal","Bulk Si MFP"], "range": [3.5,3.5,3.5,1.5]}, "legend": {"title": null}}
            }},
            {"data": {"values": [{"f": 0.0219, "f2": 18600, "m": 180}]}, "mark": {"type": "rule", "color": "#111", "strokeWidth": 2.5, "strokeDash": [9, 6]}, "encoding": {"x2": {"field": "f2"}, "y": {"field": "m", "type": "quantitative", "scale": {"type": "log", "domain": [0.01, 20000], "nice": false}, "axis": null}}},
            {"data": {"values": [{"f": 0.0219, "m": 180}]}, "mark": {"type": "point", "shape": "M0,0L1,-0.32L0.7,0L1,0.32Z", "size": 1600, "filled": true, "color": "#111", "opacity": 1}, "encoding": {"y": {"field": "m", "type": "quantitative", "scale": {"type": "log", "domain": [0.01, 20000], "nice": false}, "axis": null}}},
            {"data": {"values": [{"f": 3000, "m": 180}]}, "mark": {"type": "point", "shape": "M0,0L-1,-0.32L-0.7,0L-1,0.32Z", "size": 1600, "filled": true, "color": "#111", "opacity": 1}, "encoding": {"y": {"field": "m", "type": "quantitative", "scale": {"type": "log", "domain": [0.01, 20000], "nice": false}, "axis": null}}},
            {"data": {"values": [{"f": 0.31, "m": 180}]}, "mark": {"type": "text", "text": "c", "align": "right", "baseline": "alphabetic", "dy": -8, "fontSize": 19, "fontWeight": "bold", "color": "#111"}, "encoding": {"y": {"field": "m", "type": "quantitative", "scale": {"type": "log", "domain": [0.01, 20000], "nice": false}, "axis": null}}},
            {"data": {"values": [{"f": 0.31, "m": 180}]}, "mark": {"type": "text", "text": ": @ 300 K, 0-3.0 THz", "align": "left", "baseline": "alphabetic", "dy": -8, "fontSize": 19, "color": "#111"}, "encoding": {"y": {"field": "m", "type": "quantitative", "scale": {"type": "log", "domain": [0.01, 20000], "nice": false}, "axis": null}}},
            {"data": {"values": [{"f": 3000}]}, "mark": {"type": "rule", "color": "#111", "strokeWidth": 2.5, "strokeDash": [9, 6]}, "encoding": {}}
          ],
          "resolve": {"scale": {"y": "independent"}}
        },
        {
          "width": 326, "height": 273,
          "encoding": {"x": {"field": "f", "type": "quantitative", "scale": {"type": "log", "domain": [0.0219, 18600], "nice": false}, "axis": {"values": [1, 100, 10000], "labelExpr": "'10' + replace(replace(replace(replace(replace(replace(replace('' + round(log(datum.value) / LN10), '-', '⁻'), '0', '⁰'), '1', '¹'), '2', '²'), '3', '³'), '4', '⁴'), '5', '⁵')", "title": "Switching frequency, ωₛ/2π [GHz]", "titleFontSize": 22, "labelPadding": 9, "titlePadding": 6}}},
          "layer": [
            {"data": {"name": "d_coh"}, "mark": {"type": "line", "strokeJoin": "round"}, "encoding": {
              "y": {"field": "k", "type": "quantitative", "scale": {"type": "log", "domain": [0.0001, 20], "nice": false}, "axis": {"orient": "left", "values": [0.0001, 0.001, 0.01, 0.1, 1, 10], "labelExpr": "'10' + replace(replace(replace(replace(replace(replace(replace('' + round(log(datum.value) / LN10), '-', '⁻'), '0', '⁰'), '1', '¹'), '2', '²'), '3', '³'), '4', '⁴'), '5', '⁵')", "title": null}},
              "color": {"datum": "κCoh", "type": "nominal", "scale": {"domain": ["κCoh","κinc","κTotal","Bulk Si MFP"], "range": ["#1a9a78","#f23d96","#1636d4","#b671c9"]}, "legend": {"title": null}},
              "strokeDash": {"datum": "κCoh", "type": "nominal", "scale": {"domain": ["κCoh","κinc","κTotal","Bulk Si MFP"], "range": [[1,0],[1,0],[7,5],[1,0]]}, "legend": {"title": null}},
              "strokeWidth": {"datum": "κCoh", "type": "ordinal", "scale": {"type": "ordinal", "domain": ["κCoh","κinc","κTotal","Bulk Si MFP"], "range": [3.5,3.5,3.5,1.5]}, "legend": {"title": null}}
            }},
            {"data": {"name": "d_inc"}, "mark": {"type": "line", "strokeCap": "butt"}, "encoding": {
              "y": {"field": "k", "type": "quantitative", "scale": {"type": "log", "domain": [0.0001, 20], "nice": false}, "axis": null},
              "color": {"datum": "κinc", "type": "nominal", "scale": {"domain": ["κCoh","κinc","κTotal","Bulk Si MFP"], "range": ["#1a9a78","#f23d96","#1636d4","#b671c9"]}, "legend": {"title": null}},
              "strokeDash": {"datum": "κinc", "type": "nominal", "scale": {"domain": ["κCoh","κinc","κTotal","Bulk Si MFP"], "range": [[1,0],[1,0],[7,5],[1,0]]}, "legend": {"title": null}},
              "strokeWidth": {"datum": "κinc", "type": "ordinal", "scale": {"type": "ordinal", "domain": ["κCoh","κinc","κTotal","Bulk Si MFP"], "range": [3.5,3.5,3.5,1.5]}, "legend": {"title": null}}
            }},
            {"data": {"name": "d_tot"}, "mark": {"type": "line", "strokeCap": "butt"}, "encoding": {
              "y": {"field": "k", "type": "quantitative", "scale": {"type": "log", "domain": [0.0001, 20], "nice": false}, "axis": null},
              "color": {"datum": "κTotal", "type": "nominal", "scale": {"domain": ["κCoh","κinc","κTotal","Bulk Si MFP"], "range": ["#1a9a78","#f23d96","#1636d4","#b671c9"]}, "legend": {"title": null}},
              "strokeDash": {"datum": "κTotal", "type": "nominal", "scale": {"domain": ["κCoh","κinc","κTotal","Bulk Si MFP"], "range": [[1,0],[1,0],[7,5],[1,0]]}, "legend": {"title": null}},
              "strokeWidth": {"datum": "κTotal", "type": "ordinal", "scale": {"type": "ordinal", "domain": ["κCoh","κinc","κTotal","Bulk Si MFP"], "range": [3.5,3.5,3.5,1.5]}, "legend": {"title": null}}
            }},
            {"data": {"name": "mfp130"}, "mark": {"type": "point", "filled": false, "opacity": 1}, "encoding": {
              "y": {"field": "m", "type": "quantitative", "scale": {"type": "log", "domain": [0.01, 20000], "nice": false}, "axis": {"orient": "right", "values": [0.01, 0.1, 1, 10, 100, 1000, 10000], "labelExpr": "'10' + replace(replace(replace(replace(replace(replace(replace('' + round(log(datum.value) / LN10), '-', '⁻'), '0', '⁰'), '1', '¹'), '2', '²'), '3', '³'), '4', '⁴'), '5', '⁵')", "title": null}},
              "color": {"datum": "Bulk Si MFP", "type": "nominal", "scale": {"domain": ["κCoh","κinc","κTotal","Bulk Si MFP"], "range": ["#1a9a78","#f23d96","#1636d4","#b671c9"]}, "legend": {"title": null}},
              "shape": {"datum": "Bulk Si MFP", "type": "nominal", "scale": {"domain": ["κCoh","κinc","κTotal","Bulk Si MFP"], "range": ["stroke","stroke","stroke","square"]}, "legend": {"title": null}},
              "size": {"datum": "Bulk Si MFP", "type": "ordinal", "scale": {"type": "ordinal", "domain": ["κCoh","κinc","κTotal","Bulk Si MFP"], "range": [620,620,620,78]}, "legend": {"title": null}},
              "strokeWidth": {"datum": "Bulk Si MFP", "type": "ordinal", "scale": {"type": "ordinal", "domain": ["κCoh","κinc","κTotal","Bulk Si MFP"], "range": [3.5,3.5,3.5,1.5]}, "legend": {"title": null}}
            }},
            {"data": {"values": [{"f": 0.0219, "f2": 18600, "m": 180}]}, "mark": {"type": "rule", "color": "#111", "strokeWidth": 2.5, "strokeDash": [9, 6]}, "encoding": {"x2": {"field": "f2"}, "y": {"field": "m", "type": "quantitative", "scale": {"type": "log", "domain": [0.01, 20000], "nice": false}, "axis": null}}},
            {"data": {"values": [{"f": 0.0219, "m": 180}]}, "mark": {"type": "point", "shape": "M0,0L1,-0.32L0.7,0L1,0.32Z", "size": 1600, "filled": true, "color": "#111", "opacity": 1}, "encoding": {"y": {"field": "m", "type": "quantitative", "scale": {"type": "log", "domain": [0.01, 20000], "nice": false}, "axis": null}}},
            {"data": {"values": [{"f": 4000, "m": 180}]}, "mark": {"type": "point", "shape": "M0,0L-1,-0.32L-0.7,0L-1,0.32Z", "size": 1600, "filled": true, "color": "#111", "opacity": 1}, "encoding": {"y": {"field": "m", "type": "quantitative", "scale": {"type": "log", "domain": [0.01, 20000], "nice": false}, "axis": null}}},
            {"data": {"values": [{"f": 0.47, "m": 180}]}, "mark": {"type": "text", "text": "d", "align": "right", "baseline": "alphabetic", "dy": -8, "fontSize": 19, "fontWeight": "bold", "color": "#111"}, "encoding": {"y": {"field": "m", "type": "quantitative", "scale": {"type": "log", "domain": [0.01, 20000], "nice": false}, "axis": null}}},
            {"data": {"values": [{"f": 0.47, "m": 180}]}, "mark": {"type": "text", "text": ": @ 130 K, 0-4.0 THz", "align": "left", "baseline": "alphabetic", "dy": -8, "fontSize": 19, "color": "#111"}, "encoding": {"y": {"field": "m", "type": "quantitative", "scale": {"type": "log", "domain": [0.01, 20000], "nice": false}, "axis": null}}},
            {"data": {"values": [{"f": 4000}]}, "mark": {"type": "rule", "color": "#111", "strokeWidth": 2.5, "strokeDash": [9, 6]}, "encoding": {}}
          ],
          "resolve": {"scale": {"y": "independent"}}
        }
      ]
    }
  ],
  "spacing": 70,
  "resolve": {
    "scale": {"color": "independent", "shape": "independent", "size": "independent", "strokeDash": "independent", "strokeWidth": "independent"},
    "legend": {"color": "independent", "shape": "independent", "size": "independent", "strokeDash": "independent", "strokeWidth": "independent"}
  }
}
